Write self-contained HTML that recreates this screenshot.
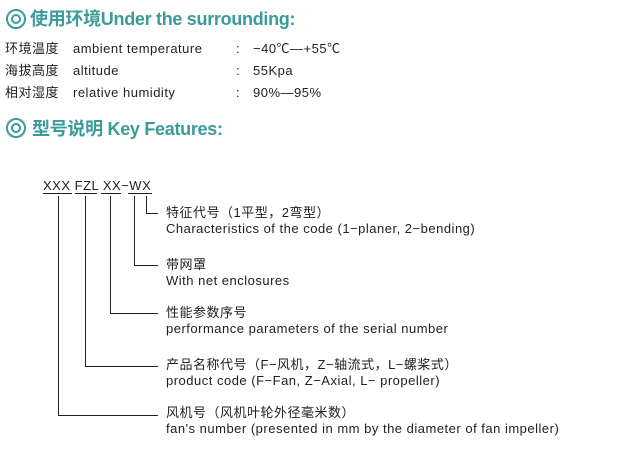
<!DOCTYPE html>
<html><head><meta charset="utf-8"><style>
body{margin:0;width:618px;height:451px;background:#fff;position:relative;overflow:hidden;font-family:"Liberation Sans","Noto Sans CJK SC",sans-serif;color:#222}
.a{position:absolute;white-space:nowrap;line-height:16px}
.t{font-size:18px;font-weight:bold;color:#3a9c9a;line-height:22px;letter-spacing:-0.3px}
.r{font-size:13px;letter-spacing:0.5px}
.c{width:16px;height:16px;border:2.5px solid #3a9c9a;border-radius:50%;position:absolute}
.c::after{content:"";position:absolute;left:3px;top:3px;width:6px;height:6px;border:2px solid #3a9c9a;border-radius:50%}
.l{position:absolute;background:#222}
</style></head><body>
<div class="c" style="left:6px;top:9px"></div>
<div class="a t" style="left:30px;top:8px">使用环境Under the surrounding:</div>
<div class="a r" style="left:5px;top:41px">环境温度</div><div class="a r" style="left:73px;top:41px">ambient temperature</div><div class="a r" style="left:236px;top:41px">:</div><div class="a r" style="left:253px;top:41px">−40℃—+55℃</div>
<div class="a r" style="left:5px;top:63px">海拔高度</div><div class="a r" style="left:73px;top:63px">altitude</div><div class="a r" style="left:236px;top:63px">:</div><div class="a r" style="left:253px;top:63px">55Kpa</div>
<div class="a r" style="left:5px;top:85px">相对湿度</div><div class="a r" style="left:73px;top:85px">relative humidity</div><div class="a r" style="left:236px;top:85px">:</div><div class="a r" style="left:253px;top:85px">90%—95%</div>
<div class="c" style="left:6px;top:118px"></div>
<div class="a t" style="left:32px;top:118px">型号说明 Key Features:</div>
<div class="a r" style="left:43px;top:178px;letter-spacing:0.5px">XXX FZL XX−WX</div>
<div class="l" style="left:43px;top:193px;width:29px;height:1px"></div>
<div class="l" style="left:75px;top:193px;width:22px;height:1px"></div>
<div class="l" style="left:101px;top:193px;width:20px;height:1px"></div>
<div class="l" style="left:128px;top:193px;width:24px;height:1px"></div>
<div class="l" style="left:146px;top:196px;width:1px;height:18px"></div><div class="l" style="left:146px;top:213px;width:12px;height:1px"></div>
<div class="l" style="left:134px;top:196px;width:1px;height:70px"></div><div class="l" style="left:134px;top:265px;width:24px;height:1px"></div>
<div class="l" style="left:110px;top:196px;width:1px;height:118px"></div><div class="l" style="left:110px;top:313px;width:48px;height:1px"></div>
<div class="l" style="left:85px;top:196px;width:1px;height:171px"></div><div class="l" style="left:85px;top:366px;width:73px;height:1px"></div>
<div class="l" style="left:58px;top:196px;width:1px;height:220px"></div><div class="l" style="left:58px;top:415px;width:100px;height:1px"></div>
<div class="a r" style="left:166px;top:205px">特征代号（1平型，2弯型）</div>
<div class="a r" style="left:166px;top:221px">Characteristics of the code (1−planer, 2−bending)</div>
<div class="a r" style="left:166px;top:257px">带网罩</div>
<div class="a r" style="left:166px;top:273px">With net enclosures</div>
<div class="a r" style="left:166px;top:305px">性能参数序号</div>
<div class="a r" style="left:166px;top:321px">performance parameters of the serial number</div>
<div class="a r" style="left:166px;top:357px">产品名称代号（F−风机，Z−轴流式，L−螺桨式）</div>
<div class="a r" style="left:166px;top:373px">product code (F−Fan, Z−Axial, L− propeller)</div>
<div class="a r" style="left:166px;top:405px">风机号（风机叶轮外径毫米数）</div>
<div class="a r" style="left:166px;top:421px">fan's number (presented in mm by the diameter of fan impeller)</div>
</body></html>
